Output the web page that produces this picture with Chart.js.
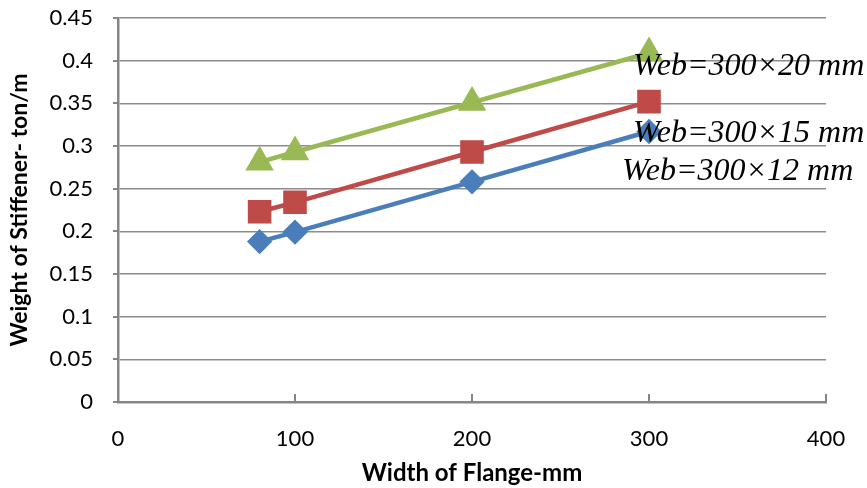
<!DOCTYPE html>
<html><head><meta charset="utf-8">
<script src="https://cdn.jsdelivr.net/npm/chart.js@4/dist/chart.umd.min.js"></script>
<style>html,body{margin:0;padding:0;background:#fff}#wrap{width:867px;height:488px}</style>
</head><body><div id="wrap"><canvas id="c" width="867" height="488"></canvas></div>
<script>
const flangeWidth = [80, 100, 200, 300];
const web12 = [0.188, 0.199, 0.258, 0.317];
const web15 = [0.223, 0.234, 0.293, 0.352];
const web20 = [0.281, 0.293, 0.351, 0.409];
const seriesLabels = ['Web=300×12 mm', 'Web=300×15 mm', 'Web=300×20 mm'];
const yTicks = [0, 0.05, 0.1, 0.15, 0.2, 0.25, 0.3, 0.35, 0.4, 0.45];
const xTicks = [0, 100, 200, 300, 400];

const pts = (ys) => flangeWidth.map((x, i) => ({x, y: ys[i]}));

const annot = {
  id: 'annot',
  afterDatasetsDraw(chart) {
    const ctx = chart.ctx;
    ctx.save();
    ctx.font = 'italic 32px "Liberation Serif", "DejaVu Serif", serif';
    ctx.fillStyle = '#000';
    ctx.textBaseline = 'alphabetic';
    const pos = [[622, 180], [633, 142], [633, 75]];
    seriesLabels.forEach((t, i) => ctx.fillText(t, pos[i][0], pos[i][1]));
    ctx.restore();
  }
};

const innerTicks = {
  id: 'innerTicks',
  afterDraw(chart) {
    const ctx = chart.ctx, xs = chart.scales.x, ys = chart.scales.y;
    const ca = chart.chartArea;
    ctx.save();
    ctx.strokeStyle = '#868686';
    ctx.lineWidth = 2;
    ctx.beginPath();
    xTicks.forEach(v => { const px = Math.round(xs.getPixelForValue(v)); ctx.moveTo(px, ca.bottom); ctx.lineTo(px, ca.bottom - 8); });
    yTicks.forEach(v => { const py = Math.round(ys.getPixelForValue(v)); ctx.moveTo(ca.left, py); ctx.lineTo(ca.left - 5, py); });
    ctx.stroke();
    ctx.restore();
  }
};

new Chart(document.getElementById('c'), {
  type: 'line',
  data: {
    datasets: [
      {label: seriesLabels[0], data: pts(web12), borderColor: '#4A7EBB', backgroundColor: '#4A7EBB', pointStyle: 'rectRot', pointRadius: 9.5, pointHoverRadius: 9.5, borderWidth: 4.5},
      {label: seriesLabels[1], data: pts(web15), borderColor: '#BE4B48', backgroundColor: '#BE4B48', pointStyle: 'rect', pointRadius: 13.5, pointHoverRadius: 13.5, borderWidth: 4.5},
      {label: seriesLabels[2], data: pts(web20), borderColor: '#98B954', backgroundColor: '#98B954', pointStyle: 'triangle', pointRadius: 12, pointHoverRadius: 12, borderWidth: 4.5}
    ]
  },
  options: {
    responsive: false,
    animation: false,
    layout: {padding: {left: 0, right: 41, top: 0, bottom: 0}},
    plugins: {legend: {display: false}, tooltip: {enabled: false}},
    scales: {
      x: {
        type: 'linear', min: 0, max: 400,
        afterBuildTicks: s => { s.ticks = xTicks.map(v => ({value: v})); },
        afterFit: s => { s.height = 86; s.paddingLeft = 0; s.paddingRight = 0; },
        grid: {display: false, drawTicks: false},
        border: {display: true, color: '#868686', width: 2.5},
        ticks: {padding: 24, color: '#000', font: {family: 'Lato, "Open Sans", sans-serif', size: 22}, maxRotation: 0},
        title: {display: true, text: 'Width of Flange-mm', color: '#000', font: {family: 'Lato, "Open Sans", sans-serif', size: 24, weight: 'bold'}, padding: {top: 10, bottom: 0}}
      },
      y: {
        type: 'linear', min: 0, max: 0.45,
        afterBuildTicks: s => { s.ticks = yTicks.map(v => ({value: v})); },
        afterFit: s => { s.width = 118; s.paddingTop = 18; s.paddingBottom = 0; },
        grid: {color: '#8c8c8c', lineWidth: 1.5, drawTicks: false},
        border: {display: true, color: '#868686', width: 2.5},
        ticks: {padding: 25, color: '#000', font: {family: 'Lato, "Open Sans", sans-serif', size: 22}, callback: v => String(v)},
        title: {display: true, text: 'Weight of Stiffener- ton/m', color: '#000', font: {family: 'Lato, "Open Sans", sans-serif', size: 23, weight: 'bold'}, padding: {top: 6, bottom: 4}}
      }
    }
  },
  plugins: [annot, innerTicks]
});
</script>
</body></html>
